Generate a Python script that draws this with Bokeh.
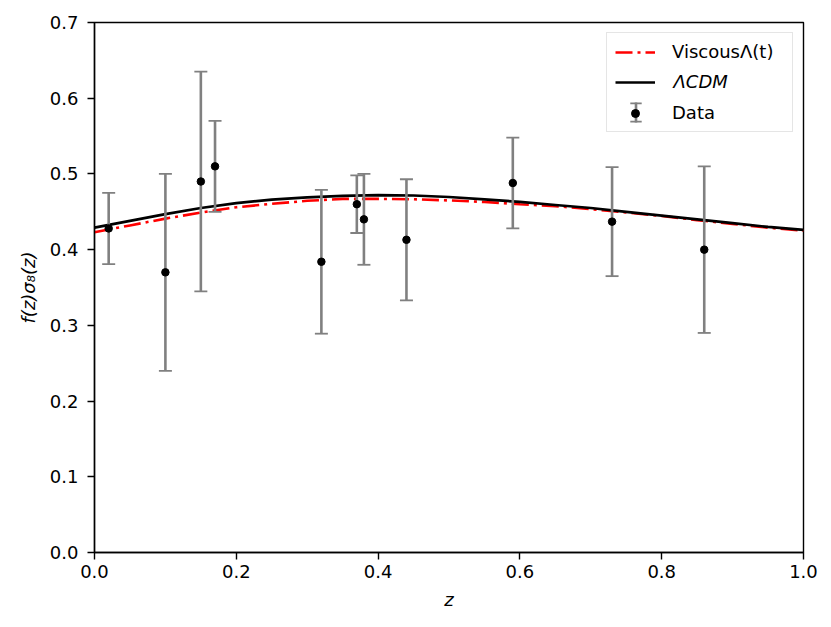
import numpy as np
from bokeh.plotting import figure
from bokeh.models import (Range1d, FixedTicker, Legend, LegendItem, Label, BoxAnnotation,
                          ColumnDataSource, NumeralTickFormatter)
from bokeh.embed import file_html
from bokeh.resources import INLINE

# ---- data ----
z_model = [0.00, 0.05, 0.10, 0.15, 0.20, 0.25, 0.30, 0.35, 0.40, 0.45, 0.50,
           0.55, 0.60, 0.65, 0.70, 0.75, 0.80, 0.85, 0.90, 0.95, 1.00]
fs8_lcdm = [0.429, 0.438, 0.447, 0.455, 0.4615, 0.466, 0.469, 0.471, 0.472, 0.4715, 0.4695,
            0.4665, 0.463, 0.459, 0.455, 0.450, 0.445, 0.440, 0.435, 0.430, 0.426]
fs8_visc = [0.423, 0.432, 0.441, 0.449, 0.456, 0.4605, 0.4645, 0.467, 0.467, 0.4665, 0.465,
            0.463, 0.460, 0.4575, 0.4535, 0.449, 0.4445, 0.439, 0.434, 0.429, 0.425]

z_data = [0.02, 0.10, 0.15, 0.17, 0.32, 0.37, 0.38, 0.44, 0.59, 0.73, 0.86]
fs8_data = [0.428, 0.370, 0.490, 0.510, 0.384, 0.460, 0.440, 0.413, 0.488, 0.437, 0.400]
err_data = [0.047, 0.130, 0.145, 0.060, 0.095, 0.038, 0.060, 0.080, 0.060, 0.072, 0.110]

x_ticks = [0.0, 0.2, 0.4, 0.6, 0.8, 1.0]
y_ticks = [0.0, 0.1, 0.2, 0.3, 0.4, 0.5, 0.6, 0.7]

label_visc = "Viscous\u039b(t)"
label_lcdm = "\u039bCDM"
label_data = "Data"

FONT = "DejaVu Sans"
FS = "18px"
ERR_COLOR = "gray"

p = figure(width=823, height=619, x_range=Range1d(0, 1), y_range=Range1d(0, 0.7),
           output_backend="svg", toolbar_location=None,
           min_border_left=94, min_border_right=20, min_border_top=22, min_border_bottom=67)
p.xgrid.visible = False
p.ygrid.visible = False
p.outline_line_color = "black"
p.outline_line_width = 1.4
p.outline_line_alpha = 1.0
p.background_fill_color = "white"
p.border_fill_color = "white"

for ax in (p.xaxis[0], p.yaxis[0]):
    ax.axis_line_color = "black"
    ax.axis_line_width = 1.4
    ax.major_tick_line_color = "black"
    ax.major_tick_line_width = 1.4
    ax.major_tick_out = 7
    ax.major_tick_in = 0
    ax.minor_tick_line_color = None
    ax.major_label_text_font = FONT
    ax.major_label_text_font_size = FS
    ax.major_label_text_color = "black"
    ax.axis_label_text_font = FONT
    ax.axis_label_text_font_size = FS
    ax.axis_label_text_font_style = "italic"
    ax.axis_label_text_color = "black"
    ax.formatter = NumeralTickFormatter(format="0.0")

p.xaxis.ticker = FixedTicker(ticks=x_ticks)
p.yaxis.ticker = FixedTicker(ticks=y_ticks)
p.xaxis.major_label_standoff = 5
p.yaxis.major_label_standoff = 9
p.xaxis.axis_label = "z"
p.yaxis.axis_label = "f(z)\u03c3\u2088(z)"
p.xaxis.axis_label_standoff = 8
p.yaxis.axis_label_standoff = 8

# ---- model curves ----
r_visc = p.line(z_model, fs8_visc, line_color="red", line_width=2.6, line_dash="17 5 3 5")
r_lcdm = p.line(z_model, fs8_lcdm, line_color="black", line_width=2.7)

# ---- data with error bars ----
lo = [v - e for v, e in zip(fs8_data, err_data)]
hi = [v + e for v, e in zip(fs8_data, err_data)]
src = ColumnDataSource(dict(z=z_data, y=fs8_data, lo=lo, hi=hi))
p.segment(x0="z", y0="lo", x1="z", y1="hi", source=src, line_color=ERR_COLOR, line_width=2.6)
p.scatter(x="z", y="lo", source=src, marker="dash", size=13, line_color=ERR_COLOR, line_width=1.8)
p.scatter(x="z", y="hi", source=src, marker="dash", size=13, line_color=ERR_COLOR, line_width=1.8)
r_dots = p.scatter(x="z", y="y", source=src, marker="circle", size=7.5,
                   fill_color="black", line_color="black")

# ---- legend ----
legend = Legend(items=[
    LegendItem(label=label_visc, renderers=[r_visc]),
    LegendItem(label=" ", renderers=[r_lcdm]),
    LegendItem(label=label_data, renderers=[r_dots]),
], location="top_right", margin=10, padding=8, spacing=10,
    glyph_width=40, glyph_height=20, label_height=20, label_width=112, label_standoff=17,
    label_text_font=FONT, label_text_font_size=FS, label_text_color="black",
    border_line_color="#cccccc", border_line_width=1.2,
    background_fill_color="white", background_fill_alpha=0.0)
p.add_layout(legend, "center")

# italic label for the LCDM entry (frame-relative screen position)
p.add_layout(Label(x=579, y=471, x_units="screen", y_units="screen", text=label_lcdm,
                   text_font=FONT, text_font_size=FS, text_font_style="italic",
                   text_color="black", text_baseline="middle", text_align="left"))

# legend symbol of the error bar: vertical stroke with two caps (screen units)
leg_cx, leg_cy = 541.5, 440.0
for (l, r, b, t) in [(leg_cx - 1.3, leg_cx + 1.3, leg_cy - 10, leg_cy + 10),
                     (leg_cx - 5.7, leg_cx + 5.7, leg_cy + 8.2, leg_cy + 10),
                     (leg_cx - 5.7, leg_cx + 5.7, leg_cy - 10, leg_cy - 8.2)]:
    p.add_layout(BoxAnnotation(left=l, right=r, bottom=b, top=t,
                               left_units="screen", right_units="screen",
                               bottom_units="screen", top_units="screen",
                               fill_color=ERR_COLOR, fill_alpha=1.0, line_color=None))

open("out.html", "w").write(file_html(p, INLINE))
